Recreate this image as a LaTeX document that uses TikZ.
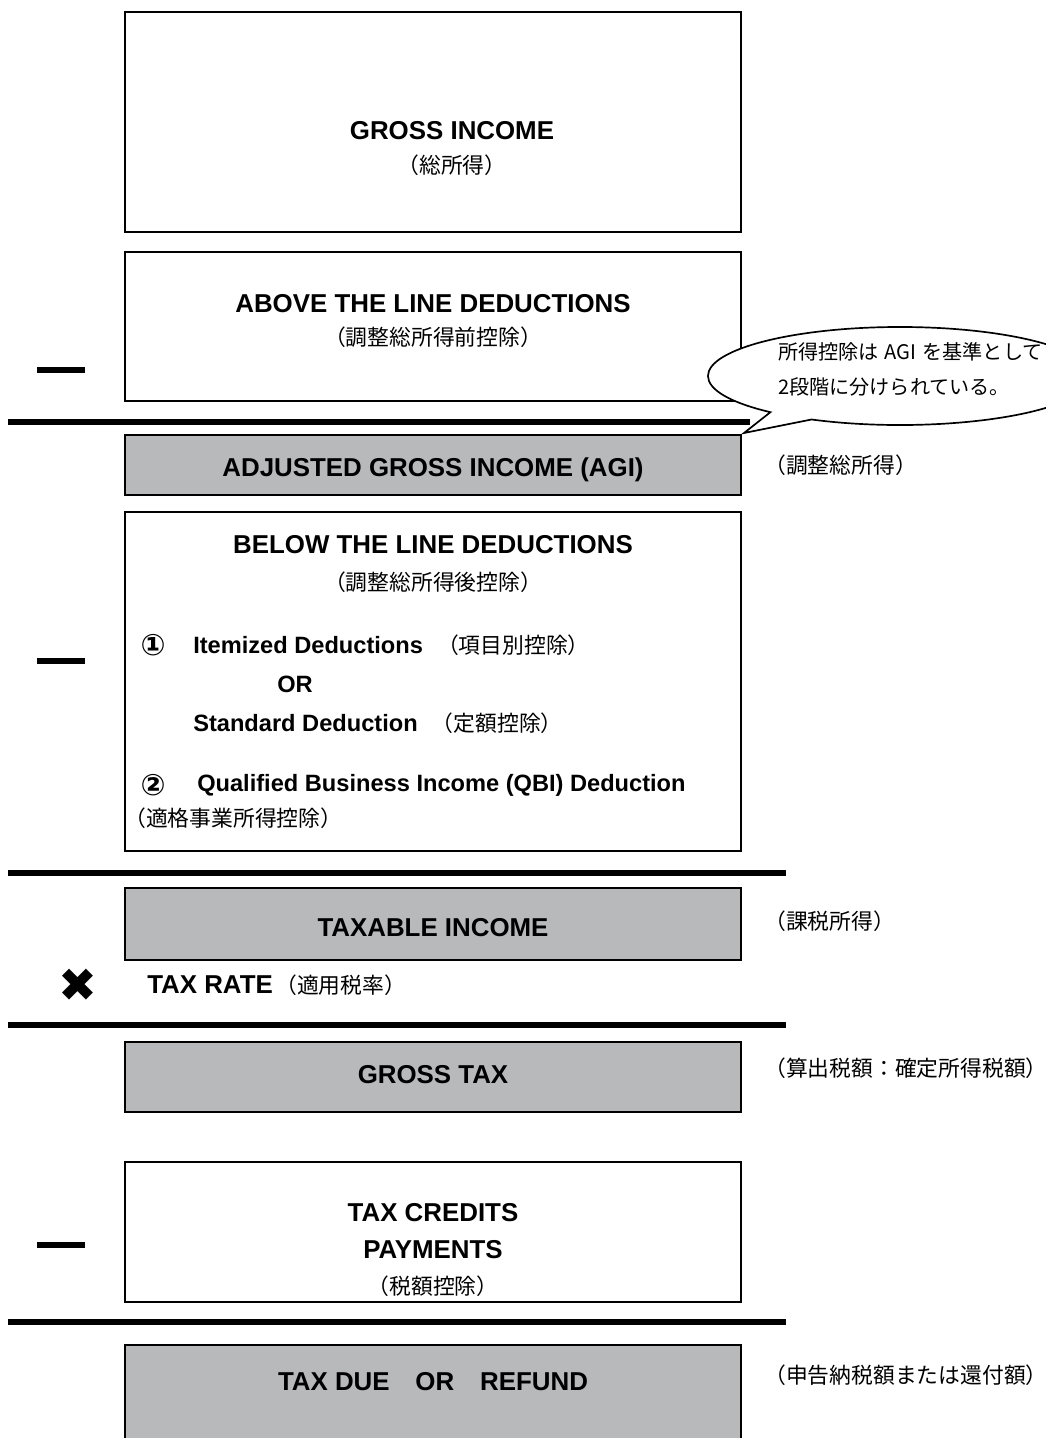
\documentclass[tikz,border=0pt]{standalone}
\usepackage{fontspec}
\setmainfont{Liberation Sans}
\newfontfamily\jp{Noto Sans CJK JP}
\newfontfamily\sym{DejaVu Sans}
\usepackage{tikz}
\usetikzlibrary{shapes.callouts}
\definecolor{boxgray}{RGB}{184,185,187}

\begin{document}
\begin{tikzpicture}[x=0.025cm, y=-0.025cm,
  box/.style={draw, line width=1.6pt, minimum width=15.4cm, inner sep=0pt},
  graybox/.style={box, fill=boxgray},
  head/.style={font=\fontsize{18.4}{22}\selectfont\bfseries, inner sep=0pt},
  item/.style={font=\fontsize{16.8}{20}\selectfont\bfseries, inner sep=0pt, anchor=west},
  jpn/.style={font=\fontsize{15.5}{18}\selectfont\jp, inner sep=0pt},
  note/.style={jpn, anchor=west},
  bar/.style={line width=4.5pt},
  minus/.style={line width=4.5pt}]
\useasboundingbox (0,0) rectangle (1045,1438);

% boxes
\node[box, minimum height=5.5cm] (gross) at (433,122) {};
\node[box, minimum height=3.725cm] (above) at (433,326.5) {};
\node[graybox, minimum height=1.5cm] (agi) at (433,465) {};
\node[box, minimum height=8.475cm] (below) at (433,681.5) {};
\node[graybox, minimum height=1.8cm] (taxable) at (433,924) {};
\node[graybox, minimum height=1.75cm] (grosstax) at (433,1077) {};
\node[box, minimum height=3.5cm] (credits) at (433,1232) {};
\node[graybox, minimum height=2.5cm] (taxdue) at (433,1395) {};

% texts in boxes
\node[head] (grosst) at (452,131) {GROSS INCOME};
\node[jpn] (grossj) at (452,165) {（総所得）};
\node[head] (abovet) at (433,304) {ABOVE THE LINE DEDUCTIONS};
\node[jpn] (abovej) at (433,337) {（調整総所得前控除）};
\node[head] (agit) at (433,470) {ADJUSTED GROSS INCOME (AGI)};
\node[head] (belowt) at (433,545) {BELOW THE LINE DEDUCTIONS};
\node[jpn] (belowj) at (433,582) {（調整総所得後控除）};
\node[font=\fontsize{21}{24}\selectfont\sym\bfseries, inner sep=0pt] (one) at (153,645) {①};
\node[item] (itemized) at (193,645) {Itemized Deductions\hspace{0.6em}{\mdseries\jp\fontsize{15.5}{18}\selectfont（項目別控除）}};
\node[item] (or) at (277,684) {OR};
\node[item] (standard) at (193,723) {Standard Deduction\hspace{0.6em}{\mdseries\jp\fontsize{15.5}{18}\selectfont（定額控除）}};
\node[font=\fontsize{21}{24}\selectfont\sym\bfseries, inner sep=0pt] (two) at (153,785) {②};
\node[item] (qbi) at (197,785) {Qualified Business Income (QBI) Deduction};
\node[note] (qbij) at (124,818) {（適格事業所得控除）};
\node[head] (taxablet) at (433,928) {TAXABLE INCOME};
\node[head] (grosstaxt) at (433,1075) {GROSS TAX};
\node[head] (creditst) at (433,1213) {TAX CREDITS};
\node[head] (paymentst) at (433,1250) {PAYMENTS};
\node[jpn] (creditsj) at (433,1286) {（税額控除）};
\node[head] (taxduet) at (433,1382) {TAX DUE\hspace{1em}OR\hspace{1em}REFUND};

% operators
\draw[minus] (37,370) -- (85,370);
\draw[minus] (37,661) -- (85,661);
\draw[minus] (37,1245) -- (85,1245);
\node[font=\fontsize{33}{35}\selectfont\sym, inner sep=0pt] (times) at (78,985) {✖};
\node[head, anchor=west] (rate) at (147,985) {TAX RATE\hspace{0.1em}{\mdseries\jp\fontsize{15.5}{18}\selectfont（適用税率）}};

% totals
\draw[bar] (8,422) -- (750,422);
\draw[bar] (8,873) -- (786,873);
\draw[bar] (8,1025) -- (786,1025);
\draw[bar] (8,1322) -- (786,1322);

% callout
\node[draw, line width=1.2pt, fill=white, ellipse callout, minimum width=9.6cm,
  minimum height=2.45cm, callout absolute pointer={(744,433)}] (bubble) at (900,376) {};
\node[note, font=\fontsize{14.3}{17}\selectfont\jp] (bubble1) at (778,352) {所得控除は\hspace{0.3em}AGI\hspace{0.3em}を基準として};
\node[note, font=\fontsize{14.3}{17}\selectfont\jp] (bubble2) at (778,387) {2段階に分けられている。};

% right labels
\node[note] (agij) at (764,465) {（調整総所得）};
\node[note] (taxablej) at (764,921) {（課税所得）};
\node[note] (grosstaxj) at (764,1068) {（算出税額：確定所得税額）};
\node[note] (taxduej) at (764,1375) {（申告納税額または還付額）};
\end{tikzpicture}
\end{document}
